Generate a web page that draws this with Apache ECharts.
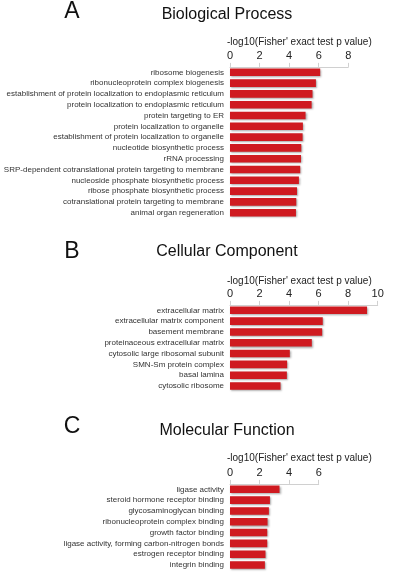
<!DOCTYPE html>
<html>
<head>
<meta charset="utf-8">
<script src="https://cdn.jsdelivr.net/npm/echarts@6/dist/echarts.min.js"></script>
<style>html,body{margin:0;padding:0;background:#fff}#c{width:396px;height:572px}</style>
</head>
<body>
<div id="c"></div>
<script>
const bpCategories = ["ribosome biogenesis","ribonucleoprotein complex biogenesis","establishment of protein localization to endoplasmic reticulum","protein localization to endoplasmic reticulum","protein targeting to ER","protein localization to organelle","establishment of protein localization to organelle","nucleotide biosynthetic process","rRNA processing","SRP-dependent cotranslational protein targeting to membrane","nucleoside phosphate biosynthetic process","ribose phosphate biosynthetic process","cotranslational protein targeting to membrane","animal organ regeneration"];
const bpValues = [6.1,5.81,5.58,5.52,5.11,4.93,4.91,4.82,4.8,4.75,4.66,4.53,4.48,4.46];
const ccCategories = ["extracellular matrix","extracellular matrix component","basement membrane","proteinaceous extracellular matrix","cytosolic large ribosomal subunit","SMN-Sm protein complex","basal lamina","cytosolic ribosome"];
const ccValues = [9.28,6.28,6.24,5.54,4.05,3.87,3.85,3.42];
const mfCategories = ["ligase activity","steroid hormone receptor binding","glycosaminoglycan binding","ribonucleoprotein complex binding","growth factor binding","ligase activity, forming carbon-nitrogen bonds","estrogen receptor binding","integrin binding"];
const mfValues = [3.35,2.70,2.63,2.54,2.52,2.52,2.40,2.36];
const panelTitles = ["Biological Process","Cellular Component","Molecular Function"];
const panelLetters = ["A","B","C"];
const axisName = "-log10(Fisher' exact test p value)";
const xMax = [8,10,6];

const FONT = '"Liberation Sans", Arial, sans-serif';
const grids = [
  {left:230, right:47.7, top:66.9, height:151.2},
  {left:230, right:18.3, top:304.9, height:86.5},
  {left:230, right:77.3, top:483.9, height:86.5}
];
const cats = [bpCategories, ccCategories, mfCategories];
const vals = [bpValues, ccValues, mfValues];
const titleY = [15, 252, 431];
const letterY = [12, 252, 427];
const nameY = [42, 281, 458];

const chart = echarts.init(document.getElementById('c'), null, {renderer:'canvas'});
const option = {
  animation:false,
  grid: grids,
  xAxis: grids.map((g,i)=>({
    type:'value', gridIndex:i, position:'top', min:0, max:xMax[i], interval:2,
    axisLine:{show:true, lineStyle:{color:'#d0d0d0', width:1}},
    axisTick:{show:true, length:4, lineStyle:{color:'#d0d0d0'}},
    splitLine:{show:false},
    axisLabel:{fontSize:11, color:'#222', fontFamily:FONT, margin:5}
  })),
  yAxis: grids.map((g,i)=>({
    type:'category', gridIndex:i, inverse:true, data:cats[i],
    axisLine:{show:false}, axisTick:{show:false},
    axisLabel:{fontSize:8, color:'#333', fontFamily:FONT, margin:6}
  })),
  series: grids.map((g,i)=>({
    type:'bar', xAxisIndex:i, yAxisIndex:i, data:vals[i], barCategoryGap:'30%',
    itemStyle:{color:'#cf1a20', shadowColor:'rgba(0,0,0,0.35)', shadowBlur:2, shadowOffsetX:1, shadowOffsetY:1}
  })),
  graphic: [].concat(
    panelTitles.map((t,i)=>({type:'text', x:227, y:titleY[i], style:{text:t, font:'16px '+FONT, fill:'#111', textAlign:'center', textVerticalAlign:'middle'}})),
    panelLetters.map((t,i)=>({type:'text', x:72, y:letterY[i], style:{text:t, font:'23px '+FONT, fill:'#111', textAlign:'center', textVerticalAlign:'middle'}})),
    [0,1,2].map(i=>({type:'text', x:227, y:nameY[i], style:{text:axisName, font:'10px '+FONT, fill:'#222', textAlign:'left', textVerticalAlign:'middle'}}))
  )
};
chart.setOption(option);
</script>
</body>
</html>
